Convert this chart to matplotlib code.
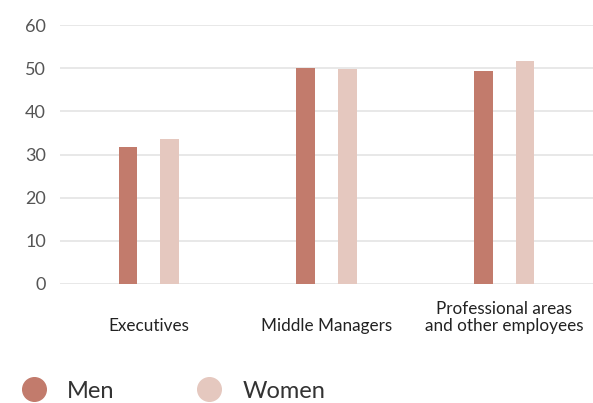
import numpy as np
import matplotlib.pyplot as plt
from matplotlib.lines import Line2D

categories = ['Executives', 'Middle Managers', 'Professional areas\nand other employees']
men = [31.7, 50.0, 49.3]
women = [33.6, 49.9, 51.6]
yticks = [0, 10, 20, 30, 40, 50, 60]

c_men = '#c27b6c'
c_women = '#e5c8bf'

plt.rcParams['font.family'] = ['Lato', 'DejaVu Sans']

fig = plt.figure(figsize=(5.93, 4.03), dpi=100)
ax = fig.add_axes([60 / 593, 119 / 403, 1 - 60 / 593, 259 / 403])

x = np.arange(len(categories))
w = 0.106
off = 0.117
ax.bar(x - off, men, width=w, color=c_men, zorder=3)
ax.bar(x + off, women, width=w, color=c_women, zorder=3)

ax.set_ylim(0, 60)
ax.set_xlim(-0.5, 2.5)
ax.set_yticks(yticks)
ax.yaxis.grid(True, color='#e6e6e6', linewidth=1.3, zorder=0)
ax.set_axisbelow(True)
for s in ax.spines.values():
    s.set_visible(False)
ax.tick_params(axis='both', length=0)
ax.tick_params(axis='y', pad=10, labelsize=13, labelcolor='#555555')

ax.set_xticks(x)
ax.set_xticklabels([])
for i, lab in enumerate(categories):
    ax.annotate(lab, xy=(x[i], 0), xycoords=('data', 'axes fraction'),
                xytext=(0, -50), textcoords='offset pixels',
                ha='center', va='bottom', fontsize=12.3, color='#222222',
                linespacing=1.1)

handles = [
    Line2D([], [], marker='o', linestyle='none', markersize=17,
           markerfacecolor=c_men, markeredgecolor=c_men, label='Men'),
    Line2D([], [], marker='o', linestyle='none', markersize=17,
           markerfacecolor=c_women, markeredgecolor=c_women, label='Women'),
]
fig.legend(handles=handles, loc='center left', bbox_to_anchor=(20 / 593, 12 / 403),
           ncol=2, frameon=False, fontsize=17, handlelength=1.2, handletextpad=0.8,
           columnspacing=3.4, borderpad=0, borderaxespad=0, labelcolor='#333333')

fig.savefig('out.png', dpi=100)
